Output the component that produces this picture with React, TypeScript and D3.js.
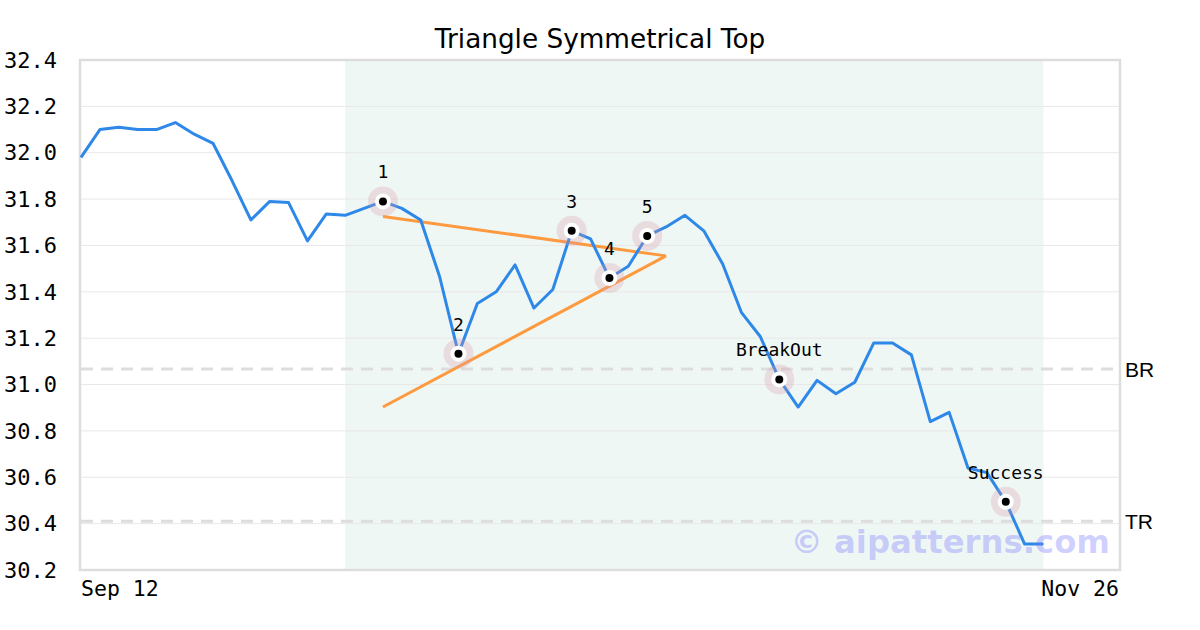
import React from "react";
import * as d3 from "d3";

const closes = [
  31.98, 32.10, 32.11, 32.10, 32.10, 32.13, 32.08, 32.04, 31.88, 31.71,
  31.79, 31.785, 31.62, 31.736, 31.73, 31.76, 31.79, 31.76, 31.71, 31.466,
  31.133, 31.35, 31.40, 31.516, 31.33, 31.41, 31.663, 31.628, 31.46, 31.51,
  31.641, 31.68, 31.73, 31.663, 31.52, 31.31, 31.206, 31.022, 30.903, 31.018,
  30.96, 31.01, 31.179, 31.179, 31.128, 30.84, 30.88, 30.64, 30.62, 30.494,
  30.312, 30.312,
];
const yTicks = [30.2, 30.4, 30.6, 30.8, 31.0, 31.2, 31.4, 31.6, 31.8, 32.0, 32.2, 32.4];
const xLabels = ["Sep 12", "Nov 26"];
const markerIdx = [16, 20, 26, 28, 30, 37, 49];
const markerLabels = ["1", "2", "3", "4", "5", "BreakOut", "Success"];
const upperLine = [[16, 31.725], [31, 31.555]];
const lowerLine = [[16, 30.903], [31, 31.555]];
const refLevels = [31.067, 30.41];
const refLabels = ["BR", "TR"];
const shadeRange = [14, 51];
const xDomain = [0, 55];

export default function App() {
  const W = 1200, H = 630;
  const left = 81, right = 1119, top = 60, bottom = 570;
  const x = d3.scaleLinear().domain(xDomain).range([left, right]);
  const y = d3.scaleLinear().domain([30.2, 32.4]).range([bottom, top]);
  const line = d3.line<number>().x((_, i) => x(i)).y((d) => y(d));
  const seg = d3.line<number[]>().x((d) => x(d[0])).y((d) => y(d[1]));
  const mono = "'DejaVu Sans Mono', monospace";
  const sans = "'DejaVu Sans', sans-serif";

  return (
    <svg width={W} height={H} style={{ position: "absolute", left: 0, top: 0, background: "#fff" }}>
      <rect x={0} y={0} width={W} height={H} fill="#fff" />
      <text x={600} y={48} textAnchor="middle" fontFamily={sans} fontSize={26.3} fill="#000">
        Triangle Symmetrical Top
      </text>
      <rect x={x(shadeRange[0])} y={top} width={x(shadeRange[1]) - x(shadeRange[0])} height={bottom - top} fill="#eff7f4" />
      {yTicks.map((t) => (
        <g key={t}>
          <line x1={left} x2={right} y1={y(t)} y2={y(t)} stroke="#e8e8e8" strokeWidth={1} />
          <text x={57} y={y(t)} dy="0.35em" textAnchor="end" fontFamily={mono} fontSize={22} fill="#000">
            {t.toFixed(1)}
          </text>
        </g>
      ))}
      {refLevels.map((v, i) => (
        <g key={i}>
          <line x1={left} x2={right} y1={y(v)} y2={y(v)} stroke="#dddddd" strokeWidth={3} strokeDasharray="12,8" />
          <text x={1125} y={y(v)} dy="0.36em" fontFamily="'Liberation Sans', Arial, sans-serif" fontSize={21} fill="#000">
            {refLabels[i]}
          </text>
        </g>
      ))}
      <rect x={left - 1} y={top} width={right - left + 2} height={bottom - top} fill="none" stroke="#dddddd" strokeWidth={2.5} />
      <text x={left} y={596} fontFamily={mono} fontSize={21.5} fill="#000">{xLabels[0]}</text>
      <text x={right} y={596} textAnchor="end" fontFamily={mono} fontSize={21.5} fill="#000">{xLabels[1]}</text>
      <path d={seg(upperLine) || ""} fill="none" stroke="#fd9a40" strokeWidth={3} />
      <path d={seg(lowerLine) || ""} fill="none" stroke="#fd9a40" strokeWidth={3} />
      <path d={line(closes) || ""} fill="none" stroke="#2e88e8" strokeWidth={3} strokeLinejoin="round" />
      {markerIdx.map((idx, i) => (
        <g key={i}>
          <circle cx={x(idx)} cy={y(closes[idx])} r={15} fill="rgba(215,150,170,0.28)" />
          <circle cx={x(idx)} cy={y(closes[idx])} r={8} fill="#fff" />
          <circle cx={x(idx)} cy={y(closes[idx])} r={4} fill="#000" />
          <text x={x(idx)} y={y(closes[idx]) - 23} textAnchor="middle" fontFamily={mono} fontSize={18} fill="#000">
            {markerLabels[i]}
          </text>
        </g>
      ))}
      <text x={1110} y={553} textAnchor="end" fontFamily={sans} fontWeight="bold" fontSize={32.3} fill="rgba(120,120,255,0.35)">
        © aipatterns.com
      </text>
    </svg>
  );
}
